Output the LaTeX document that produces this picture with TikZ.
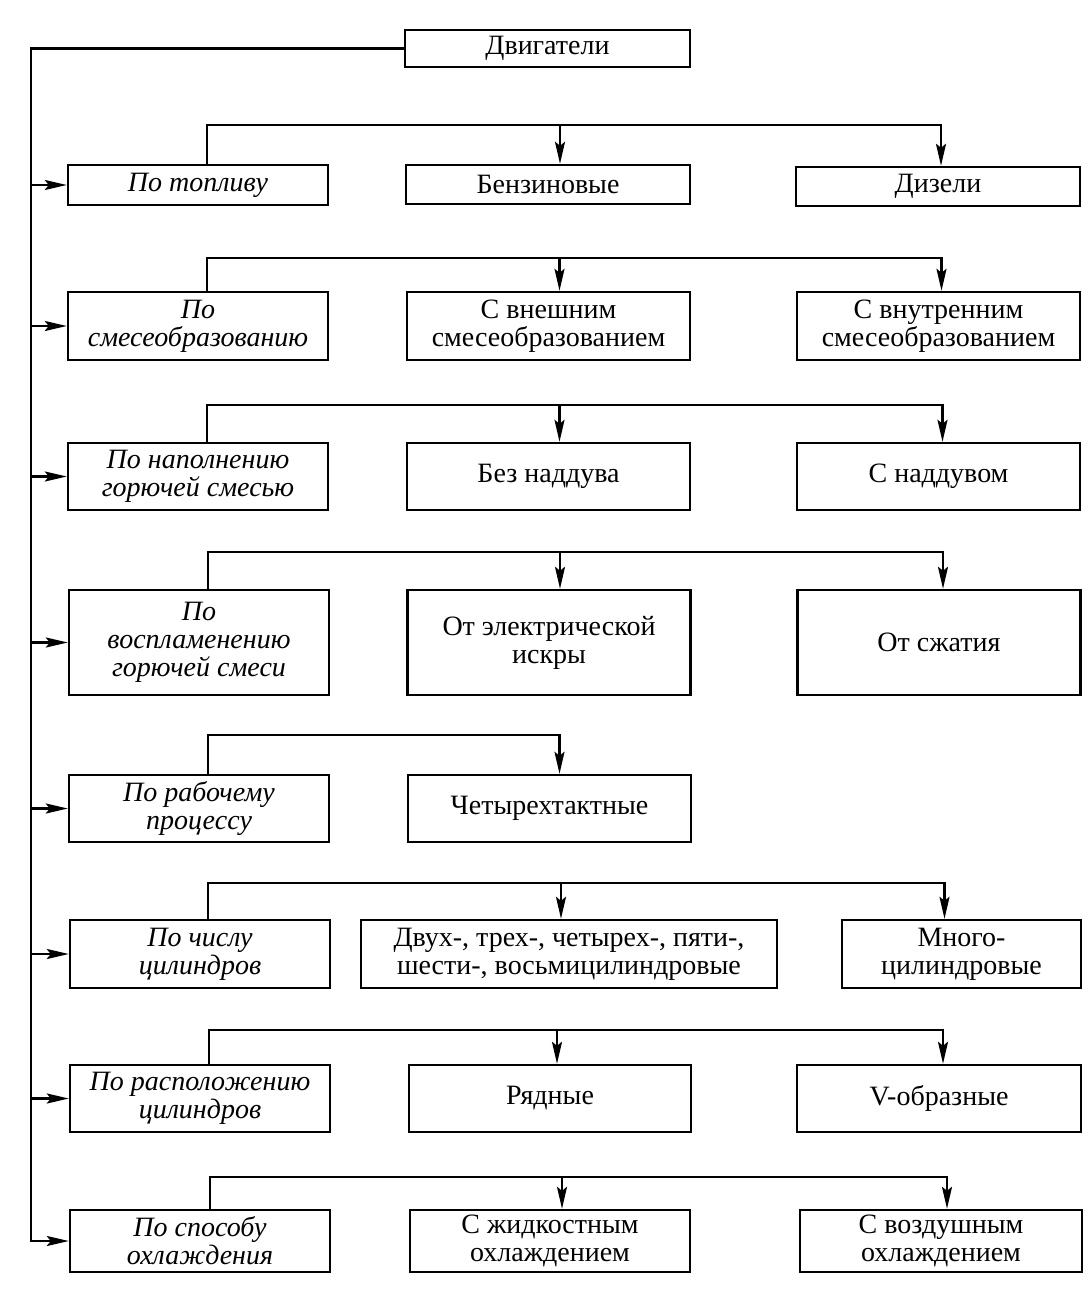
\documentclass[tikz,border=0pt]{standalone}
\usepackage{fontspec}
\setmainfont{Liberation Serif}
\usetikzlibrary{arrows.meta}
\begin{document}
\begin{tikzpicture}[x=1pt,y=-1pt,
  line width=2.4pt,
  box/.style={draw,rectangle,inner sep=1pt,align=center,font=\fontsize{28}{28}\selectfont},
  lbox/.style={box,font=\fontsize{28}{28}\selectfont\itshape},
  arr/.style={-{Stealth[length=22pt,width=10pt,inset=4pt]}}]
\useasboundingbox (0,0) rectangle (1089,1290);
% top
\node[box,minimum width=285,minimum height=37] (top) at (547.5,48.5) {Двигатели};
% row 1
\node[lbox,minimum width=260,minimum height=40] (L1) at (198,185) {По топливу};
\node[box,minimum width=284,minimum height=39] (M1) at (548,184.5) {Бензиновые};
\node[box,minimum width=284,minimum height=39] (R1) at (938,186.5) {Дизели};
% row 2
\node[lbox,minimum width=260,minimum height=68] (L2) at (198,326) {По\\смесеобразованию};
\node[box,minimum width=283,minimum height=68] (M2) at (548.5,326) {С внешним\\смесеобразованием};
\node[box,minimum width=283,minimum height=68] (R2) at (938.5,326) {С внутренним\\смесеобразованием};
% row 3
\node[lbox,minimum width=260,minimum height=67] (L3) at (198,476.5) {По наполнению\\горючей смесью};
\node[box,minimum width=283,minimum height=67] (M3) at (548.5,476.5) {Без наддува};
\node[box,minimum width=283,minimum height=67] (R3) at (938.5,476.5) {С наддувом};
% row 4
\node[lbox,minimum width=260,minimum height=105] (L4) at (199,642.5) {По\\воспламенению\\горючей смеси};
\node[box,minimum width=283,minimum height=105] (M4) at (549,642.5) {От электрической\\искры};
\node[box,minimum width=283,minimum height=105] (R4) at (939,642.5) {От сжатия};
% row 5
\node[lbox,minimum width=260,minimum height=67] (L5) at (199,808.5) {По рабочему\\процессу};
\node[box,minimum width=283,minimum height=67] (M5) at (549.5,808.5) {Четырехтактные};
% row 6
\node[lbox,minimum width=260,minimum height=68] (L6) at (200,954) {По числу\\цилиндров};
\node[box,minimum width=416,minimum height=68] (M6) at (569,954) {Двух-, трех-, четырех-, пяти-,\\шести-, восьмицилиндровые};
\node[box,minimum width=239,minimum height=68] (R6) at (961.5,954) {Много-\\цилиндровые};
% row 7
\node[lbox,minimum width=260,minimum height=67] (L7) at (200,1098.5) {По расположению\\цилиндров};
\node[box,minimum width=282,minimum height=67] (M7) at (550,1098.5) {Рядные};
\node[box,minimum width=284,minimum height=67] (R7) at (939,1098.5) {V-образные};
% row 8
\node[lbox,minimum width=260,minimum height=62] (L8) at (200,1241) {По способу\\охлаждения};
\node[box,minimum width=280,minimum height=62] (M8) at (550,1241) {С жидкостным\\охлаждением};
\node[box,minimum width=282,minimum height=62] (R8) at (941,1241) {С воздушным\\охлаждением};
% spine
\coordinate (sp) at (31,0);
\draw[arr] (top.west) -| (L8.west -| sp) -- (L8.west);
\foreach \k in {1,...,7} {\draw[arr] (L\k.west -| sp) -- (L\k.west);}
% bracket end points
\coordinate (s1) at ([xshift=9pt]L1.north);  \coordinate (m1) at ([xshift=12pt]M1.north); \coordinate (r1) at ([xshift=3pt]R1.north);
\coordinate (s2) at ([xshift=9pt]L2.north);  \coordinate (m2) at ([xshift=11pt]M2.north); \coordinate (r2) at ([xshift=3pt]R2.north);
\coordinate (s3) at ([xshift=9pt]L3.north);  \coordinate (m3) at ([xshift=11pt]M3.north); \coordinate (r3) at ([xshift=4pt]R3.north);
\coordinate (s4) at ([xshift=9pt]L4.north);  \coordinate (m4) at ([xshift=11pt]M4.north); \coordinate (r4) at ([xshift=4pt]R4.north);
\coordinate (s5) at ([xshift=9pt]L5.north);  \coordinate (m5) at ([xshift=10pt]M5.north);
\coordinate (s6) at ([xshift=8pt]L6.north);  \coordinate (m6) at ([xshift=-8pt]M6.north); \coordinate (r6) at ([xshift=-17pt]R6.north);
\coordinate (s7) at ([xshift=9pt]L7.north);  \coordinate (m7) at ([xshift=7pt]M7.north);  \coordinate (r7) at ([xshift=4pt]R7.north);
\coordinate (s8) at ([xshift=10pt]L8.north); \coordinate (m8) at ([xshift=12pt]M8.north); \coordinate (r8) at ([xshift=6pt]R8.north);
\coordinate (b1) at (0,125);
\coordinate (b2) at (0,258);
\coordinate (b3) at (0,405);
\coordinate (b4) at (0,552);
\coordinate (b5) at (0,735);
\coordinate (b6) at (0,883);
\coordinate (b7) at (0,1030);
\coordinate (b8) at (0,1177);
\foreach \k in {1,2,3,4,6,7,8} {
  \draw[arr] (s\k) |- (b\k -| r\k) -- (r\k);
  \draw[arr] (b\k -| m\k) -- (m\k);
}
\draw[arr] (s5) |- (b5 -| m5) -- (m5);
\end{tikzpicture}
\end{document}
